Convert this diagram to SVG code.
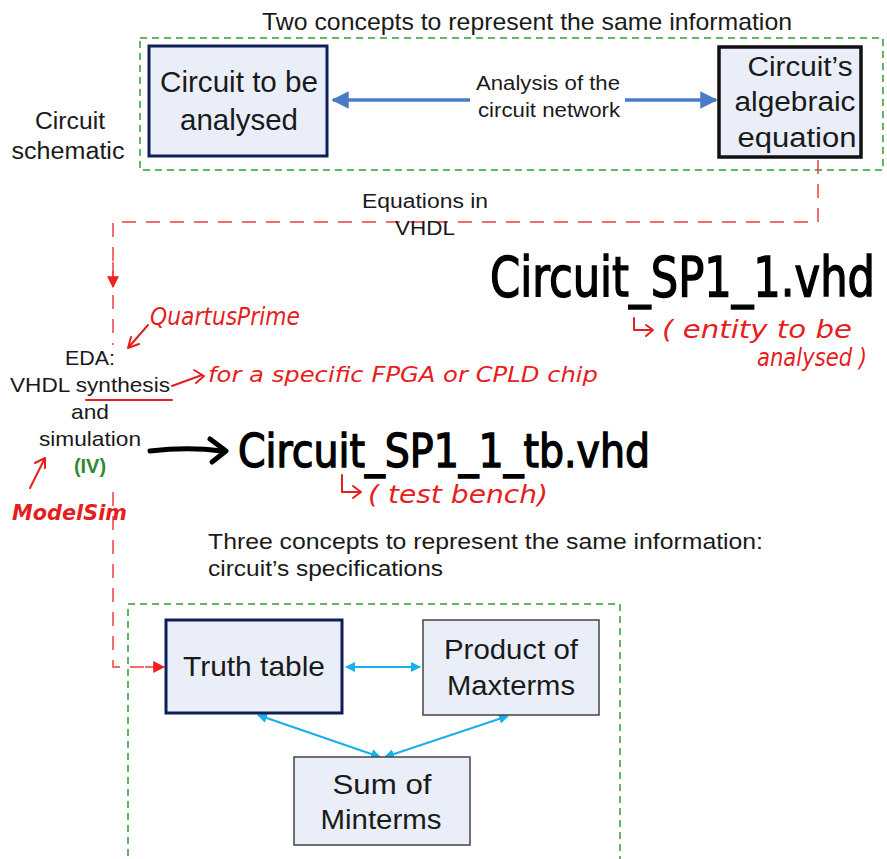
<svg xmlns="http://www.w3.org/2000/svg" width="887" height="859" viewBox="0 0 887 859">
  <style>
    .t { font-family: "Liberation Sans", Arial, sans-serif; fill: #1a1a1a; text-anchor: middle; }
    .box { fill: #E9EEF8; }
    .navy { stroke: #0E1E5B; stroke-width: 3; }
    .blk { stroke: #111; stroke-width: 3.5; }
    .gray { stroke: #444; stroke-width: 1.5; }
    .grp { fill: none; stroke: #2EA02E; stroke-width: 1.5; stroke-dasharray: 7 5; }
    .red { fill: none; stroke: #F03C3C; stroke-width: 1.5; stroke-dasharray: 14 10; }
    .hand { font-family: "DejaVu Sans", sans-serif; fill: #E61E1E; font-style: italic; }
    .pen { fill: none; stroke: #E61E1E; stroke-width: 2; stroke-linecap: round; stroke-linejoin: round; }
    .big { font-family: "DejaVu Sans Condensed", "DejaVu Sans", sans-serif; fill: #000; stroke: #000; stroke-width: 1; }
  </style>
  <defs>
    <marker id="bl" viewBox="0 0 10 10" refX="9" refY="5" markerWidth="5" markerHeight="5" orient="auto-start-reverse">
      <path d="M0,0 L10,5 L0,10 z" fill="#4A7BC8"/>
    </marker>
    <marker id="cy" viewBox="0 0 10 10" refX="9" refY="5" markerWidth="5" markerHeight="5" orient="auto-start-reverse">
      <path d="M0,0 L10,5 L0,10 z" fill="#16B0EC"/>
    </marker>
    <marker id="rd" viewBox="0 0 10 10" refX="9" refY="5" markerWidth="8" markerHeight="8" orient="auto">
      <path d="M0,0 L10,5 L0,10 z" fill="#F01E1E"/>
    </marker>
  </defs>

  <rect width="887" height="859" fill="#fff"/>

  <!-- upper group -->
  <text class="t" x="527" y="30" font-size="24" textLength="530" lengthAdjust="spacingAndGlyphs">Two concepts to represent the same information</text>
  <rect class="grp" x="140" y="38" width="743" height="132"/>
  <text class="t" x="70" y="129" font-size="23" textLength="70" lengthAdjust="spacingAndGlyphs">Circuit</text>
  <text class="t" x="68" y="159" font-size="23" textLength="113" lengthAdjust="spacingAndGlyphs">schematic</text>

  <!-- lower group -->
  <text class="t" x="208" y="549" font-size="22" style="text-anchor:start" textLength="555" lengthAdjust="spacingAndGlyphs">Three concepts to represent the same information:</text>
  <text class="t" x="208" y="576" font-size="22" style="text-anchor:start" textLength="235" lengthAdjust="spacingAndGlyphs">circuit’s specifications</text>
  <rect class="grp" x="128" y="604" width="492" height="270"/>

  <!-- connectors -->
  <g id="connectors">
    <line x1="470" y1="100" x2="333" y2="100" stroke="#4A7BC8" stroke-width="3.5" marker-end="url(#bl)"/>
    <line x1="625" y1="100" x2="716" y2="100" stroke="#4A7BC8" stroke-width="3.5" marker-end="url(#bl)"/>
    <text class="t" x="548" y="90" font-size="20" textLength="144" lengthAdjust="spacingAndGlyphs">Analysis of the</text>
    <text class="t" x="549" y="117" font-size="20" textLength="142" lengthAdjust="spacingAndGlyphs">circuit network</text>

    <path class="red" d="M818,160 V222 H113 V345"/>
    <line x1="113" y1="262" x2="113" y2="287" stroke="#F03C3C" stroke-width="1.5" marker-end="url(#rd)"/>
    <path class="red" d="M113,492 V667 H150"/>
    <line x1="145" y1="667" x2="164" y2="667" stroke="#F03C3C" stroke-width="1.5" marker-end="url(#rd)"/>
    <text class="t" x="425" y="208" font-size="20" textLength="126" lengthAdjust="spacingAndGlyphs">Equations in</text>
    <text class="t" x="425" y="235" font-size="20" textLength="60" lengthAdjust="spacingAndGlyphs">VHDL</text>

    <line x1="346" y1="667" x2="420" y2="667" stroke="#16B0EC" stroke-width="2" marker-start="url(#cy)" marker-end="url(#cy)"/>
    <line x1="258" y1="715" x2="380" y2="757" stroke="#16B0EC" stroke-width="2" marker-start="url(#cy)" marker-end="url(#cy)"/>
    <line x1="508" y1="716" x2="385" y2="757" stroke="#16B0EC" stroke-width="2" marker-start="url(#cy)" marker-end="url(#cy)"/>
  </g>

  <g id="circuit">
    <rect class="box navy" x="149" y="46" width="178" height="110"/>
    <text class="t" x="239" y="92" font-size="29" textLength="158" lengthAdjust="spacingAndGlyphs">Circuit to be</text>
    <text class="t" x="239" y="130" font-size="29" textLength="118" lengthAdjust="spacingAndGlyphs">analysed</text>
  </g>
  <g id="equation">
    <rect class="box blk" x="719" y="47" width="142" height="110"/>
    <text class="t" x="800" y="76" font-size="27" textLength="105" lengthAdjust="spacingAndGlyphs">Circuit’s</text>
    <text class="t" x="795" y="111" font-size="27" textLength="121" lengthAdjust="spacingAndGlyphs">algebraic</text>
    <text class="t" x="797" y="147" font-size="27" textLength="119" lengthAdjust="spacingAndGlyphs">equation</text>
  </g>

  <g id="eda">
    <text class="t" x="90" y="365" font-size="21" textLength="50" lengthAdjust="spacingAndGlyphs">EDA:</text>
    <text class="t" x="90" y="392" font-size="21" textLength="160" lengthAdjust="spacingAndGlyphs">VHDL synthesis</text>
    <text class="t" x="90" y="419" font-size="21" textLength="38" lengthAdjust="spacingAndGlyphs">and</text>
    <text class="t" x="90" y="446" font-size="21" textLength="102" lengthAdjust="spacingAndGlyphs">simulation</text>
    <text class="t" x="90" y="473" font-size="20" font-weight="bold" style="fill:#2E8B2E">(IV)</text>
  </g>

  <g id="truth">
    <rect class="box navy" x="166" y="620" width="176" height="93"/>
    <text class="t" x="254" y="676" font-size="28" textLength="142" lengthAdjust="spacingAndGlyphs">Truth table</text>
  </g>
  <g id="maxterms">
    <rect class="box gray" x="423" y="620" width="176" height="95"/>
    <text class="t" x="511" y="659" font-size="27" textLength="134" lengthAdjust="spacingAndGlyphs">Product of</text>
    <text class="t" x="511" y="695" font-size="27" textLength="128" lengthAdjust="spacingAndGlyphs">Maxterms</text>
  </g>
  <g id="minterms">
    <rect class="box gray" x="294" y="757" width="176" height="88"/>
    <text class="t" x="382" y="794" font-size="27" textLength="99" lengthAdjust="spacingAndGlyphs">Sum of</text>
    <text class="t" x="381" y="829" font-size="27" textLength="121" lengthAdjust="spacingAndGlyphs">Minterms</text>
  </g>

  <!-- handwritten notes -->
  <text class="big" transform="translate(490,296) scale(1,1.4)" x="0" y="0" font-size="40" textLength="385" lengthAdjust="spacingAndGlyphs">Circuit_SP1_1.vhd</text>
  <path class="pen" d="M634,318 V330 H652 M646,325 L653,330 L646,336"/>
  <text class="hand" x="662" y="338" font-size="24" textLength="190" lengthAdjust="spacingAndGlyphs">( entity to be</text>
  <text class="hand" x="757" y="366" font-size="24" textLength="110" lengthAdjust="spacingAndGlyphs">analysed )</text>

  <text class="hand" x="150" y="325" font-size="24" textLength="150" lengthAdjust="spacingAndGlyphs">QuartusPrime</text>
  <path class="pen" d="M148,325 L128,348 M128,348 L139,344 M128,348 L131,337"/>

  <path class="pen" d="M86,400 L172,400"/>
  <path class="pen" d="M172,386 L202,375 M194,370 L204,376 L196,383"/>
  <text class="hand" x="208" y="382" font-size="22" textLength="390" lengthAdjust="spacingAndGlyphs">for a specific FPGA or CPLD chip</text>

  <path d="M150,451 C175,448 200,448 222,451" fill="none" stroke="#000" stroke-width="5" stroke-linecap="round"/>
  <path d="M210,439 L226,451 L212,462" fill="none" stroke="#000" stroke-width="5" stroke-linecap="round" stroke-linejoin="round"/>
  <text class="big" transform="translate(238,467) scale(1,1.3)" x="0" y="0" font-size="36" textLength="412" lengthAdjust="spacingAndGlyphs">Circuit_SP1_1_tb.vhd</text>
  <path class="pen" d="M342,475 V492 H360 M353,486 L361,492 L353,498"/>
  <text class="hand" x="368" y="503" font-size="24" textLength="180" lengthAdjust="spacingAndGlyphs">( test bench)</text>

  <path class="pen" d="M30,488 L45,458 M45,458 L35,463 M45,458 L45,468"/>
  <text class="hand" x="12" y="520" font-size="22" font-weight="bold" textLength="115" lengthAdjust="spacingAndGlyphs">ModelSim</text>
</svg>
